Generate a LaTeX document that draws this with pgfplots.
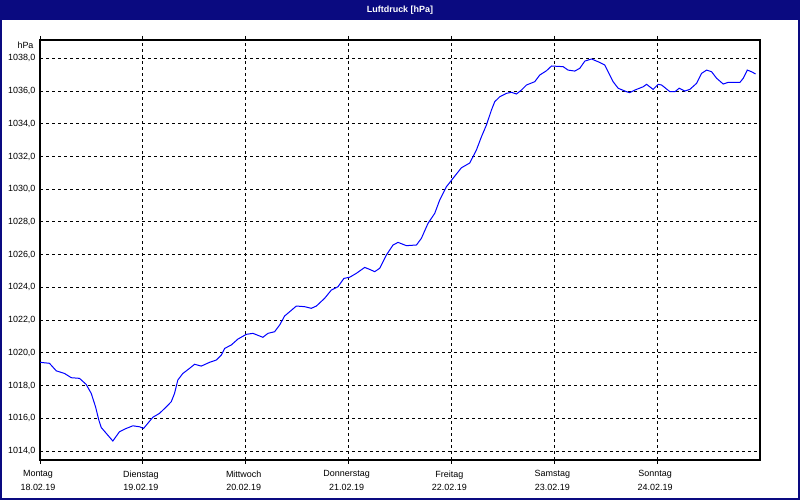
\documentclass[border=0pt]{standalone}
\usepackage{fontspec}
\setmainfont{Liberation Sans}
\usepackage{pgfplots}
\pgfplotsset{compat=1.18}
\definecolor{navy}{RGB}{10,10,128}
\begin{document}
\begin{tikzpicture}[x=1bp,y=1bp]
\useasboundingbox (0,0) rectangle (800,500);
\fill[white] (0,0) rectangle (800,500);
\fill[navy] (0,480) rectangle (800,500);
\draw[navy, line width=2bp] (1,1) rectangle (799,499);
\node[white, font=\fontsize{9}{10}\selectfont\bfseries] at (400,490) {Luftdruck [hPa]};
\begin{axis}[
  at={(40bp,40bp)}, anchor=south west,
  scale only axis, width=720bp, height=420bp,
  xmin=0, xmax=7, ymin=1013.45, ymax=1039.12,
  xtick={0,1,2,3,4,5,6},
  xticklabels={{Montag\\18.02.19},{Dienstag\\19.02.19},{Mittwoch\\20.02.19},{Donnerstag\\21.02.19},{Freitag\\22.02.19},{Samstag\\23.02.19},{Sonntag\\24.02.19}},
  ytick={1014,1016,...,1038},
  grid=major,
  major grid style={black, line width=0.9bp, dash pattern=on 3bp off 3bp},
  axis line style={black, line width=1.2bp},
  xtick align=outside, major tick length=4bp,
  ytick style={draw=none},
  xtick style={black, line width=0.9bp, dash pattern=on 3bp off 3bp},
  tick label style={font=\fontsize{9}{14}\selectfont, text=black},
  xticklabel style={align=center, yshift=-3bp, xshift=-2bp},
  yticklabel style={xshift=-1bp},
  /pgf/number format/assume math mode=true,
  yticklabel={\pgfmathprintnumber[fixed, fixed zerofill, precision=1, use comma, 1000 sep={}]{\tick}},
  clip=true,
]
\addplot[color={rgb,255:red,0;green,0;blue,255}, line width=1bp] coordinates {
(0.000,1019.42) (0.092,1019.36) (0.158,1018.90) (0.238,1018.74) (0.304,1018.48)
(0.384,1018.44) (0.449,1018.07) (0.498,1017.52) (0.540,1016.70) (0.572,1015.89)
(0.595,1015.44) (0.644,1015.08) (0.708,1014.61) (0.773,1015.18) (0.839,1015.38)
(0.903,1015.54) (0.968,1015.48) (1.007,1015.38) (1.097,1016.06) (1.162,1016.30)
(1.228,1016.70) (1.276,1017.01) (1.308,1017.52) (1.340,1018.34) (1.389,1018.74)
(1.454,1019.05) (1.503,1019.30) (1.568,1019.19) (1.649,1019.42) (1.714,1019.56)
(1.763,1019.86) (1.795,1020.27) (1.860,1020.48) (1.924,1020.84) (2.006,1021.13)
(2.070,1021.19) (2.167,1020.95) (2.216,1021.19) (2.281,1021.29) (2.330,1021.70)
(2.378,1022.25) (2.427,1022.51) (2.492,1022.86) (2.573,1022.82) (2.638,1022.72)
(2.687,1022.86) (2.767,1023.33) (2.833,1023.84) (2.897,1024.04) (2.955,1024.55)
(3.011,1024.62) (3.076,1024.86) (3.157,1025.22) (3.205,1025.10) (3.254,1024.96)
(3.303,1025.17) (3.368,1025.98) (3.432,1026.59) (3.481,1026.75) (3.562,1026.55)
(3.660,1026.59) (3.708,1027.00) (3.772,1027.91) (3.838,1028.53) (3.886,1029.34)
(3.951,1030.15) (4.016,1030.67) (4.097,1031.31) (4.178,1031.60) (4.243,1032.40)
(4.292,1033.21) (4.340,1033.92) (4.389,1034.84) (4.421,1035.35) (4.470,1035.65)
(4.535,1035.86) (4.584,1035.92) (4.632,1035.82) (4.681,1036.06) (4.730,1036.37)
(4.810,1036.57) (4.859,1036.98) (4.924,1037.24) (4.973,1037.53) (5.086,1037.49)
(5.134,1037.28) (5.199,1037.22) (5.248,1037.39) (5.297,1037.83) (5.362,1037.96)
(5.426,1037.79) (5.491,1037.59) (5.523,1037.18) (5.572,1036.57) (5.621,1036.17)
(5.702,1035.96) (5.734,1035.90) (5.783,1036.06) (5.864,1036.26) (5.897,1036.41)
(5.961,1036.10) (6.010,1036.41) (6.043,1036.37) (6.124,1035.96) (6.173,1035.96)
(6.214,1036.17) (6.270,1036.00) (6.318,1036.10) (6.383,1036.47) (6.432,1037.08)
(6.481,1037.28) (6.529,1037.18) (6.578,1036.78) (6.642,1036.43) (6.691,1036.53)
(6.805,1036.53) (6.837,1036.78) (6.876,1037.28) (6.918,1037.18) (6.957,1037.04)
};
\end{axis}
\node[anchor=east, font=\fontsize{9}{10}\selectfont] at (37,455) {hPa};
\end{tikzpicture}
\end{document}
